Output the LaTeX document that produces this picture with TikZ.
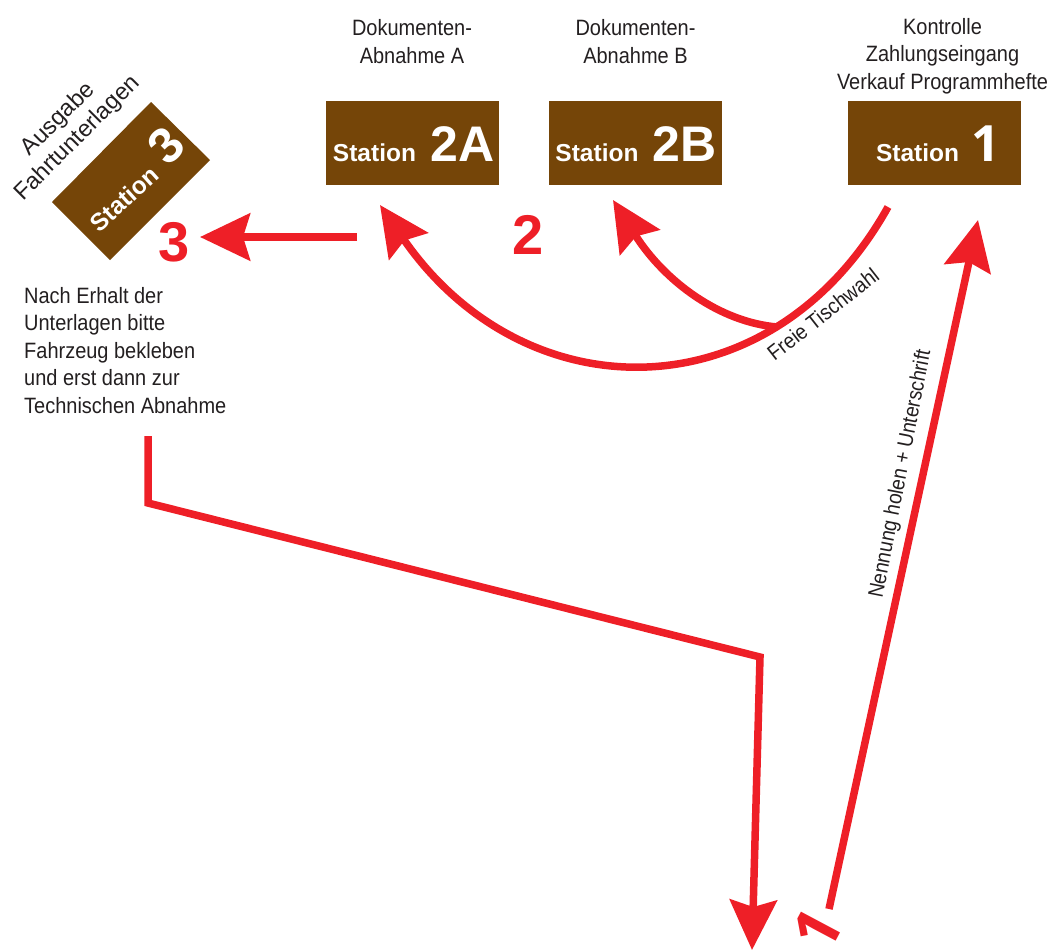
\documentclass[tikz,border=0pt]{standalone}
\usepackage{fontspec}
\setmainfont{Liberation Sans}[FakeStretch=0.90]
\newfontfamily\boldwide{Liberation Sans Bold}
\newfontfamily\plainwide{Liberation Sans}
\newfontfamily\onefont{Open Sans}
\usetikzlibrary{arrows.meta}
\definecolor{brownbox}{HTML}{754508}
\definecolor{redline}{HTML}{EE1F27}
\definecolor{inktext}{HTML}{231F20}
\tikzset{
  x=1pt,y=-1pt,
  label text/.style={font=\fontsize{22.2}{27.5}\selectfont,text=inktext,align=center,inner sep=0pt},
  wide label/.style={font=\plainwide\fontsize{23.5}{27}\selectfont,text=inktext,align=center,inner sep=0pt},
  small rot/.style={font=\fontsize{21.5}{27}\selectfont,text=inktext,inner sep=0pt},
  station/.style={fill=brownbox,minimum width=173pt,minimum height=84pt,inner sep=0pt},
  station word/.style={font=\boldwide\fontsize{24.5}{25}\selectfont,text=white,inner sep=0pt},
  station num/.style={font=\boldwide\fontsize{50}{50}\selectfont,text=white,inner sep=0pt},
  one num/.style={font=\onefont\bfseries\fontsize{50}{50}\selectfont,text=white,inner sep=0pt},
  step num/.style={font=\boldwide\fontsize{56}{56}\selectfont,text=redline,inner sep=0pt},
  step one/.style={font=\onefont\bfseries\fontsize{62}{62}\selectfont,text=redline,inner sep=0pt},
  flow/.style={draw=redline,line width=7.5pt,line join=miter},
  flowhead/.style={-{Stealth[length=50pt,width=47pt,inset=7pt]}},
}
\begin{document}
\begin{tikzpicture}
\useasboundingbox (0,0) rectangle (1051,951);
% boxes
\node[station] (s2a) at (412.5,143) {};
\node[station] (s2b) at (635.5,143) {};
\node[station] (s1) at (934.5,143) {};
\fill[brownbox] (151,102) -- (210,160) -- (110,260) -- (52,202) -- cycle;
\node[station word] (s2aw) at (374.5,153) {Station};
\node[station num] (s2an) at (462.5,144) {2A};
\node[station word] (s2bw) at (597,153) {Station};
\node[station num] (s2bn) at (684.5,144) {2B};
\node[station word] (s1w) at (917.5,153) {Station};
\node[one num] (s1n) at (986,144) {1};
\node[station word,rotate=42] (s3w) at (124,199) {Station};
\node[station num,rotate=45] (s3n) at (166,146) {3};
% labels
\node[label text] (la) at (412,41.5) {Dokumenten-\\Abnahme A};
\node[label text] (lb) at (635.5,41.5) {Dokumenten-\\Abnahme B};
\node[label text] (lc) at (942.5,56) {Kontrolle\\Zahlungseingang\\Verkauf Programmhefte};
\node[wide label,rotate=45] (ld) at (68,129) {Ausgabe\\Fahrtunterlagen};
\node[label text,align=left,anchor=north west] (le) at (24,287) {Nach Erhalt der\\Unterlagen bitte\\Fahrzeug bekleben\\und erst dann zur\\Technischen Abnahme};
\node[small rot,rotate=38] (lf) at (823,314) {Freie Tischwahl};
\node[small rot,rotate=79] (lg) at (901,474) {Nennung holen + Unterschrift};
% step numbers
\node[step num] (n3) at (174,242) {3};
\node[step num] (n2) at (528,235) {2};
\node[step one,rotate=62] (n1) at (817,929) {1};
% connectors
\coordinate (c3s) at (357,237);
\coordinate (c3e) at (200,237);
\coordinate (cas) at (888,207);
\coordinate (cae) at (380,205);
\coordinate (cbs) at (777,327);
\coordinate (cbe) at (613,200);
\coordinate (c1s) at (829,909);
\coordinate (c1e) at (978,220);
\coordinate (d0) at (148,436);
\coordinate (d1) at (148,503);
\coordinate (d2) at (760,657);
\coordinate (d3) at (752,950);
\draw[flow,flowhead] (c3s) -- (c3e);
\draw[flow,flowhead] (cas) .. controls (772,415) and (525,415) .. (cae);
\draw[flow,flowhead] (cbs) .. controls (720,322) and (665,282) .. (cbe);
\draw[flow,flowhead] (c1s) -- (c1e);
\draw[flow,flowhead] (d0) -- (d1) -- (d2) -- (d3);
\end{tikzpicture}
\end{document}
